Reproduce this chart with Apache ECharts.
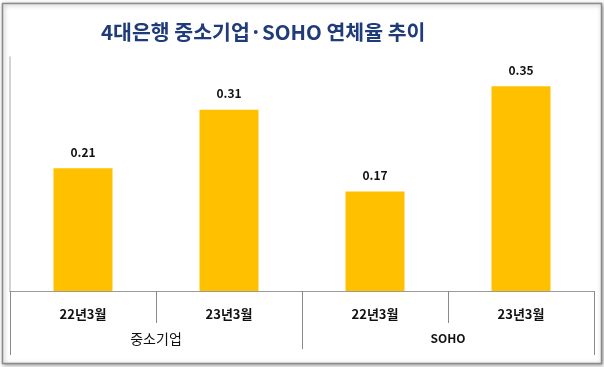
<!DOCTYPE html>
<html><head><meta charset="utf-8">
<script src="https://cdn.jsdelivr.net/npm/echarts@6/dist/echarts.min.js"></script>
<style>html,body{margin:0;padding:0;background:#fff;}#c{width:604px;height:367px;}</style>
</head><body><div id="c"></div>
<script>
const titleText = '4대은행 중소기업·SOHO 연체율 추이';
const categories = ['22년3월', '23년3월', '22년3월', '23년3월'];
const groups = ['중소기업', 'SOHO'];
const values = [0.21, 0.31, 0.17, 0.35];

const font = '"Noto Sans CJK KR", "Noto Sans", sans-serif';
const chart = echarts.init(document.getElementById('c'), null, {renderer: 'canvas'});
chart.setOption({
  animation: false,
  backgroundColor: '#fff',
  textStyle: {fontFamily: font},
  graphic: [{
    type: 'rect', z: -10, silent: true,
    shape: {x: 2.5, y: 3.5, width: 599, height: 360},
    style: {fill: '#fff', stroke: '#8a8a8a', lineWidth: 1.5, shadowBlur: 4, shadowColor: 'rgba(0,0,0,0.35)', shadowOffsetX: 1, shadowOffsetY: 1}
  }],
  title: {
    text: titleText, left: 96, top: 17,
    textStyle: {color: '#1F3B7A', fontSize: 20.5, fontWeight: 'bold', fontFamily: font}
  },
  grid: {left: 10, right: 10, top: 57, bottom: 76, containLabel: false},
  xAxis: [
    {type: 'category', data: categories, position: 'bottom',
     axisLine: {show: true, lineStyle: {color: '#9a9a9a', width: 1}},
     axisTick: {show: true, length: 32, lineStyle: {color: '#8a8a8a'}},
     axisLabel: {margin: 17, color: '#111', fontSize: 13, fontWeight: 'bold', fontFamily: font}},
    {type: 'category', data: groups.map((g, i) => ({value: g, textStyle: {fontWeight: i === 1 ? 'bold' : 'normal', fontSize: i === 1 ? 12 : 14}})),
     position: 'bottom', gridIndex: 0,
     axisLine: {show: false},
     axisTick: {show: true, length: 58, lineStyle: {color: '#8a8a8a'}},
     axisLabel: {margin: 41, color: '#111', fontSize: 14, fontFamily: font}},
    {type: 'category', data: ['all'], position: 'bottom', gridIndex: 0,
     axisLine: {show: false},
     axisTick: {show: true, length: 64, lineStyle: {color: '#8a8a8a'}},
     axisLabel: {show: false}}
  ],
  yAxis: {type: 'value', min: 0, max: 0.4,
    axisLine: {show: true, lineStyle: {color: '#c4c4c4', width: 1.5}},
    axisTick: {show: false}, axisLabel: {show: false}, splitLine: {show: false}},
  series: [{
    type: 'bar', data: values, xAxisIndex: 0, barWidth: 59,
    itemStyle: {color: '#FFC000'},
    label: {show: true, position: 'top', distance: 10, color: '#111', fontSize: 12, fontWeight: 'bold', fontFamily: font,
      formatter: p => p.value.toFixed(2)}
  }]
});
</script></body></html>
